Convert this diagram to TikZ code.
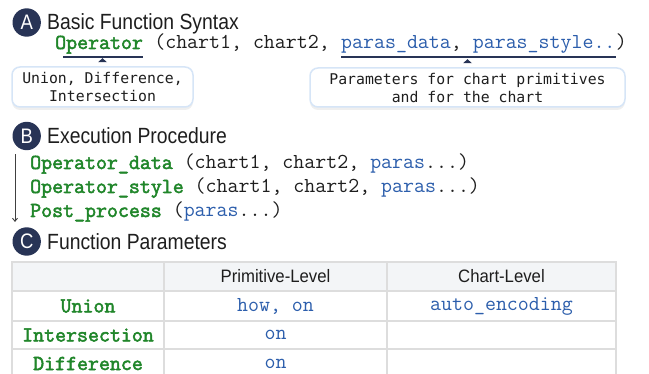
\documentclass[tikz,border=0pt]{standalone}
\usepackage{fontspec}
\setmainfont{Liberation Sans}
\newfontfamily\headfont[FakeStretch=0.88]{Liberation Sans}
\newfontfamily\tabfont[FakeStretch=0.93]{Liberation Sans}
\newfontfamily\codefont{Latin Modern Mono}
\newfontfamily\opfont[FakeBold=2.4]{Latin Modern Mono}
\newfontfamily\notefont{DejaVu Sans Mono}
\usetikzlibrary{arrows.meta,shadows}
\definecolor{navy}{RGB}{40,52,86}
\definecolor{opgreen}{RGB}{32,134,42}
\definecolor{parblue}{RGB}{44,94,172}
\definecolor{ink}{RGB}{30,30,30}
\definecolor{boxline}{RGB}{214,229,247}
\definecolor{gridgray}{RGB}{221,221,221}
\definecolor{headgray}{RGB}{243,245,247}
\newcommand{\opword}[1]{\textcolor{opgreen}{\opfont #1}}
\tikzset{
  badge/.style={circle, fill=navy, text=white, minimum size=28.4pt, inner sep=0pt,
    font=\headfont\fontsize{21}{24}\selectfont},
  heading/.style={anchor=base west, inner sep=0pt, text=ink,
    font=\headfont\fontsize{22}{26}\selectfont},
  code/.style={anchor=base west, inner sep=0pt, text=ink,
    font=\codefont\fontsize{21.3}{24}\selectfont},
  opname/.style={code, text=opgreen, font=\opfont\fontsize{21.3}{24}\selectfont},
  note/.style={draw=boxline, line width=1.5pt, fill=white, rounded corners=8pt,
    align=center, text=ink, font=\notefont\fontsize{14.8}{18}\selectfont,
    drop shadow={shadow xshift=0pt, shadow yshift=-3pt, opacity=0.12}},
  underbar/.style={navy, line width=2.6pt},
  cell/.style={draw=gridgray, line width=1.5pt, inner sep=0pt, text=ink},
  tabhead/.style={cell, fill=headgray, font=\tabfont\fontsize{18}{22}\selectfont},
  tabop/.style={cell, text=opgreen, font=\opfont\fontsize{21.3}{24}\selectfont},
  tabpar/.style={cell, text=parblue, font=\codefont\fontsize{21.3}{24}\selectfont},
}
\begin{document}
\begin{tikzpicture}[x=1pt, y=-1pt]
    \useasboundingbox[fill=white] (0,0) rectangle (649,374);
    \clip (0,0) rectangle (649,374);
    % A: basic function syntax
    \node[badge] (ca) at (26.7,22.5) {A};
    \node[heading] (hda) at (47,29.5) {Basic Function Syntax};
    \node[opname] (op) at (55,49) {Operator};
    \node[code] (args) at (op.base east) {~(chart1, chart2,};
    \node[code] (pdat) at (args.base east) {~\textcolor{parblue}{paras\_data}, \textcolor{parblue}{paras\_style..}};
    \node[code] (close) at (pdat.base east) {)};
    \draw[underbar] ([xshift=8pt,yshift=-8pt]op.base west) -- ([yshift=-8pt]op.base east);
    \draw[underbar] ([xshift=11.2pt,yshift=-8pt]pdat.base west) -- ([yshift=-8pt]pdat.base east);
    \node[note, minimum width=181pt, minimum height=40pt] (opbox) at (102.5,87) {Union, Difference,\\Intersection};
    \node[note, minimum width=315pt, minimum height=39pt] (parbox) at (467.5,87.5) {Parameters for chart primitives\\and for the chart};
    \fill[navy] ([yshift=8pt]opbox.north) -- ++(-4.5,4) -- ++(9,0) -- cycle;
    \fill[navy] ([yshift=8pt]parbox.north) -- ++(-4.5,4) -- ++(9,0) -- cycle;
    % B: execution procedure
    \node[badge] (cb) at (26.7,136) {B};
    \node[heading] (hdb) at (47,143.5) {Execution Procedure};
    \node[code] (bod) at (30,169) {\opword{Operator\_data} (chart1, chart2, \textcolor{parblue}{paras}...)};
    \node[code] (bos) at (30,193) {\opword{Operator\_style} (chart1, chart2, \textcolor{parblue}{paras}...)};
    \node[code] (bpp) at (30,217) {\opword{Post\_process} (\textcolor{parblue}{paras}...)};
    \draw[ink!85, line width=0.9pt, -{Straight Barb[length=3pt,width=5pt]}] ([xshift=-15pt]bod.north west) -- ([xshift=-15pt]bpp.south west);
    % C: function parameters
    \node[badge] (cc) at (26.7,241.5) {C};
    \node[heading] (hdc) at (47,250) {Function Parameters};
    \node[tabhead, minimum width=152pt, minimum height=29pt] (h0) at (88,276.5) {};
    \node[tabhead, minimum width=223pt, minimum height=29pt] (h1) at (275.5,276.5) {Primitive-Level};
    \node[tabhead, minimum width=229pt, minimum height=29pt] (h2) at (501.5,276.5) {Chart-Level};
    \node[tabop, minimum width=152pt, minimum height=30pt] (u0) at (88,306) {Union};
    \node[tabpar, minimum width=223pt, minimum height=30pt] (u1) at (275.5,306) {how, on};
    \node[tabpar, minimum width=229pt, minimum height=30pt] (u2) at (501.5,306) {auto\_encoding};
    \node[tabop, minimum width=152pt, minimum height=28pt] (i0) at (88,335) {Intersection};
    \node[tabpar, minimum width=223pt, minimum height=28pt] (i1) at (275.5,335) {on};
    \node[tabpar, minimum width=229pt, minimum height=28pt] (i2) at (501.5,335) {};
    \node[tabop, minimum width=152pt, minimum height=29pt] (d0) at (88,363.5) {Difference};
    \node[tabpar, minimum width=223pt, minimum height=29pt] (d1) at (275.5,363.5) {on};
    \node[tabpar, minimum width=229pt, minimum height=29pt] (d2) at (501.5,363.5) {};
\end{tikzpicture}
\end{document}
